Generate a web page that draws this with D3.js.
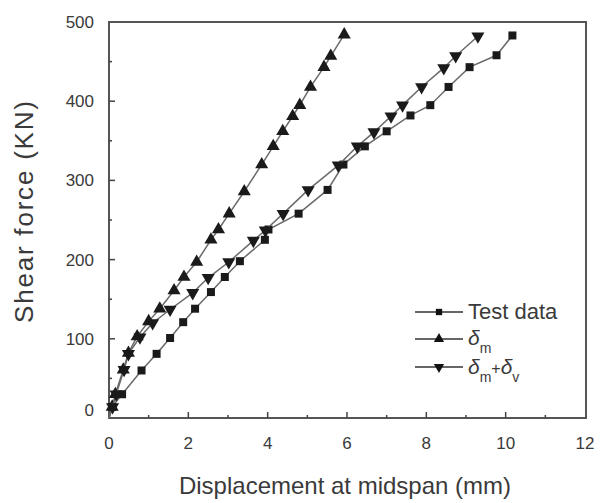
<!DOCTYPE html>
<html>
<head>
<meta charset="utf-8">
<script src="https://cdn.jsdelivr.net/npm/d3@7"></script>
<style>
  html, body { margin: 0; padding: 0; background: #fff; }
  svg { display: block; }
  text { font-family: "Liberation Sans", Arial, sans-serif; }
</style>
</head>
<body>
<svg id="chart" width="603" height="503"></svg>
<script>
// Midspan displacement (mm) versus shear force (kN)
const testDisp  = [0, 0.08, 0.33, 0.82, 1.20, 1.54, 1.87, 2.17, 2.57, 2.92, 3.30, 3.93, 4.02, 4.78, 5.51, 5.91, 6.45, 7.00, 7.60, 8.10, 8.56, 9.09, 9.77, 10.17];
const testLoad  = [0, 14, 30, 60, 81, 101, 121, 138, 159, 178, 198, 225, 238, 258, 288, 320, 343, 362, 382, 395, 418, 443, 458, 483];

const mDisp  = [0, 0.08, 0.16, 0.36, 0.49, 0.71, 1.00, 1.28, 1.64, 1.89, 2.21, 2.57, 2.76, 3.03, 3.41, 3.85, 4.14, 4.38, 4.63, 4.81, 5.08, 5.42, 5.59, 5.93];
const mLoad  = [0, 14, 30, 61, 82, 103, 122, 138, 161, 178, 197, 225, 238, 258, 286, 320, 343, 362, 381, 395, 418, 443, 457, 484];

const mvDisp = [0, 0.09, 0.18, 0.38, 0.49, 0.78, 1.10, 1.54, 2.11, 2.50, 3.02, 3.64, 3.94, 4.39, 5.02, 5.78, 6.26, 6.68, 7.11, 7.40, 7.88, 8.44, 8.74, 9.30];
const mvLoad = [0, 14, 30, 61, 81, 102, 120, 137, 158, 177, 197, 224, 237, 258, 288, 319, 343, 361, 381, 395, 418, 442, 457, 482];

const xTicks = [0, 2, 4, 6, 8, 10, 12];
const yTicks = [0, 100, 200, 300, 400, 500];

const svg = d3.select("#chart");
const plotL = 109, plotR = 586, plotT = 22, plotB = 418;

const x = d3.scaleLinear().domain([0, 12]).range([plotL, 585]);
const y = d3.scaleLinear().domain([0, 500]).range([plotB, plotT]);

const textColor = "#3a3a3a";

// frame
svg.append("rect")
  .attr("x", plotL).attr("y", plotT)
  .attr("width", plotR - plotL).attr("height", plotB - plotT)
  .attr("fill", "none").attr("stroke", "#555").attr("stroke-width", 2);

// inward ticks, major and minor
const gx = svg.append("g");
d3.range(1, 12, 1).forEach(v => {
  const major = v % 2 === 0;
  gx.append("line")
    .attr("x1", x(v)).attr("x2", x(v))
    .attr("y1", plotB).attr("y2", plotB - (major ? 6 : 3))
    .attr("stroke", "#444").attr("stroke-width", 1.5);
});
const gy = svg.append("g");
d3.range(50, 500, 50).forEach(v => {
  const major = v % 100 === 0;
  gy.append("line")
    .attr("x1", plotL).attr("x2", plotL + (major ? 6 : 3))
    .attr("y1", y(v)).attr("y2", y(v))
    .attr("stroke", "#444").attr("stroke-width", 1.5);
});

// tick labels
svg.append("g").selectAll("text").data(xTicks).join("text")
  .attr("x", d => x(d)).attr("y", 449)
  .attr("text-anchor", "middle")
  .attr("font-size", 17).attr("fill", textColor)
  .text(d => d);

svg.append("g").selectAll("text").data(yTicks).join("text")
  .attr("x", 94).attr("y", d => (d === 0 ? y(d) - 8 : y(d)) + 6)
  .attr("text-anchor", "end")
  .attr("font-size", 17).attr("fill", textColor)
  .text(d => d);

// axis titles
svg.append("text")
  .attr("x", 345).attr("y", 494)
  .attr("text-anchor", "middle")
  .attr("font-size", 24).attr("fill", textColor)
  .text("Displacement at midspan (mm)");

svg.append("text")
  .attr("transform", "translate(33,212) rotate(-90)")
  .attr("text-anchor", "middle")
  .attr("font-size", 26).attr("fill", textColor)
  .attr("textLength", 222).attr("lengthAdjust", "spacing")
  .text("Shear force (KN)");

// series
const series = [
  { xs: testDisp, ys: testLoad, sym: d3.symbolSquare, rot: 0, size: 64 },
  { xs: mDisp,    ys: mLoad,    sym: d3.symbolTriangle, rot: 0, size: 74 },
  { xs: mvDisp,   ys: mvLoad,   sym: d3.symbolTriangle, rot: 180, size: 74 }
];

const line = d3.line().x(d => x(d[0])).y(d => y(d[1]));

series.forEach(s => {
  const pts = s.xs.map((v, i) => [v, s.ys[i]]);
  svg.append("path")
    .attr("d", line(pts))
    .attr("fill", "none").attr("stroke", "#6a6a6a").attr("stroke-width", 1.5);
  svg.append("g").selectAll("path").data(pts.slice(1)).join("path")
    .attr("d", d3.symbol().type(s.sym).size(s.size))
    .attr("transform", d => `translate(${x(d[0])},${y(d[1])}) rotate(${s.rot})`)
    .attr("fill", "#1a1a1a");
});

// legend
const legend = svg.append("g");
const rows = [
  { sym: d3.symbolSquare, rot: 0, size: 40, y: 312 },
  { sym: d3.symbolTriangle, rot: 0, size: 46, y: 339 },
  { sym: d3.symbolTriangle, rot: 180, size: 46, y: 367 }
];
rows.forEach(r => {
  legend.append("line")
    .attr("x1", 415).attr("x2", 463).attr("y1", r.y).attr("y2", r.y)
    .attr("stroke", "#333").attr("stroke-width", 1.6);
  legend.append("path")
    .attr("d", d3.symbol().type(r.sym).size(r.size))
    .attr("transform", `translate(439,${r.y}) rotate(${r.rot})`)
    .attr("fill", "#111");
});

legend.append("text")
  .attr("x", 468).attr("y", 319)
  .attr("font-size", 22).attr("fill", textColor)
  .text("Test data");

const t2 = legend.append("text")
  .attr("x", 468).attr("y", 345)
  .attr("font-size", 21).attr("fill", textColor);
t2.append("tspan").attr("font-style", "italic").text("δ");
t2.append("tspan").attr("font-size", 14).attr("dy", 8).text("m");

const t3 = legend.append("text")
  .attr("x", 468).attr("y", 374)
  .attr("font-size", 21).attr("fill", textColor);
t3.append("tspan").attr("font-style", "italic").text("δ");
t3.append("tspan").attr("font-size", 14).attr("dy", 8).text("m");
t3.append("tspan").attr("font-size", 16).attr("dy", -8).text("+");
t3.append("tspan").attr("font-style", "italic").text("δ");
t3.append("tspan").attr("font-size", 14).attr("dy", 8).text("v");
</script>
</body>
</html>
